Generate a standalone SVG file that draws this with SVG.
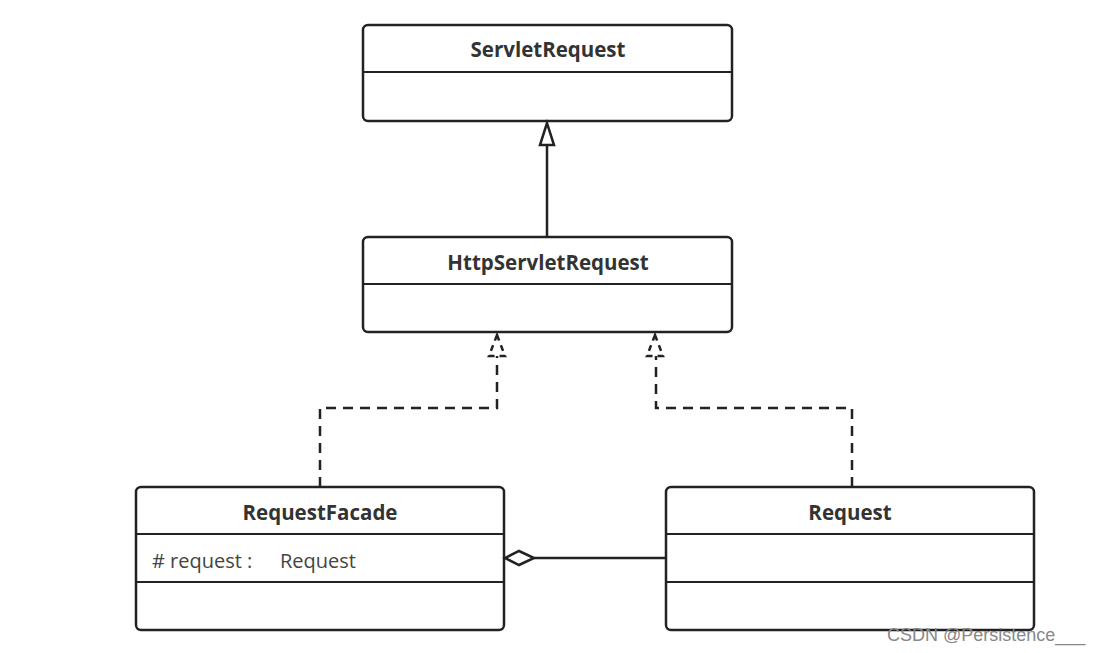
<svg xmlns="http://www.w3.org/2000/svg" width="1106" height="653" viewBox="0 0 1106 653">
<style>
.box{fill:#fff;stroke:#222;stroke-width:2.5}
.div{stroke:#222;stroke-width:2}
.title{font-family:"Open Sans","Noto Sans",sans-serif;font-weight:bold;font-size:20.5px;fill:#333;text-anchor:middle}
.attr{font-family:"Open Sans","Noto Sans",sans-serif;font-size:20px;fill:#444}
.ln{fill:none;stroke:#222;stroke-width:2.5}
.dash{fill:none;stroke:#222;stroke-width:2.5;stroke-dasharray:10 7}
.wm{font-family:"Liberation Sans",Arial,sans-serif;font-size:18px;fill:#888}
</style>
<rect width="1106" height="653" fill="#fff"/>
<g id="ServletRequest">
<rect class="box" x="363" y="25" width="369" height="96" rx="5"/>
<line class="div" x1="363" y1="72" x2="732" y2="72"/>
<text class="title" x="548" y="57">ServletRequest</text>
</g>
<g id="HttpServletRequest">
<rect class="box" x="363" y="237" width="369" height="95" rx="5"/>
<line class="div" x1="363" y1="284" x2="732" y2="284"/>
<text class="title" x="548" y="270">HttpServletRequest</text>
</g>
<g id="RequestFacade">
<rect class="box" x="136" y="487" width="368" height="143" rx="5"/>
<line class="div" x1="136" y1="534" x2="504" y2="534"/>
<line class="div" x1="136" y1="582" x2="504" y2="582"/>
<text class="title" x="320" y="520">RequestFacade</text>
<text class="attr" x="152" y="568"># request :<tspan x="280">Request</tspan></text>
</g>
<g id="Request">
<rect class="box" x="666" y="487" width="368" height="143" rx="5"/>
<line class="div" x1="666" y1="534" x2="1034" y2="534"/>
<line class="div" x1="666" y1="582" x2="1034" y2="582"/>
<text class="title" x="850" y="520">Request</text>
</g>
<g id="connectors">
<line class="ln" x1="547" y1="237" x2="547" y2="145"/>
<polygon class="ln" points="547,123 540,145 554,145"/>
<polyline class="dash" points="320,487 320,408 497,408 497,356"/>
<polygon class="dash" style="stroke-dasharray:6 5" points="497,335 489,356 505,356"/>
<polyline class="dash" points="852,487 852,408 656,408 656,356"/>
<polygon class="dash" style="stroke-dasharray:6 5" points="655,335 647,356 663,356"/>
<line class="ln" x1="534" y1="558" x2="666" y2="558"/>
<polygon class="ln" points="505,558 519,551 534,558 519,565"/>
</g>
<text class="wm" x="887" y="641">CSDN @Persistence___</text>
</svg>
